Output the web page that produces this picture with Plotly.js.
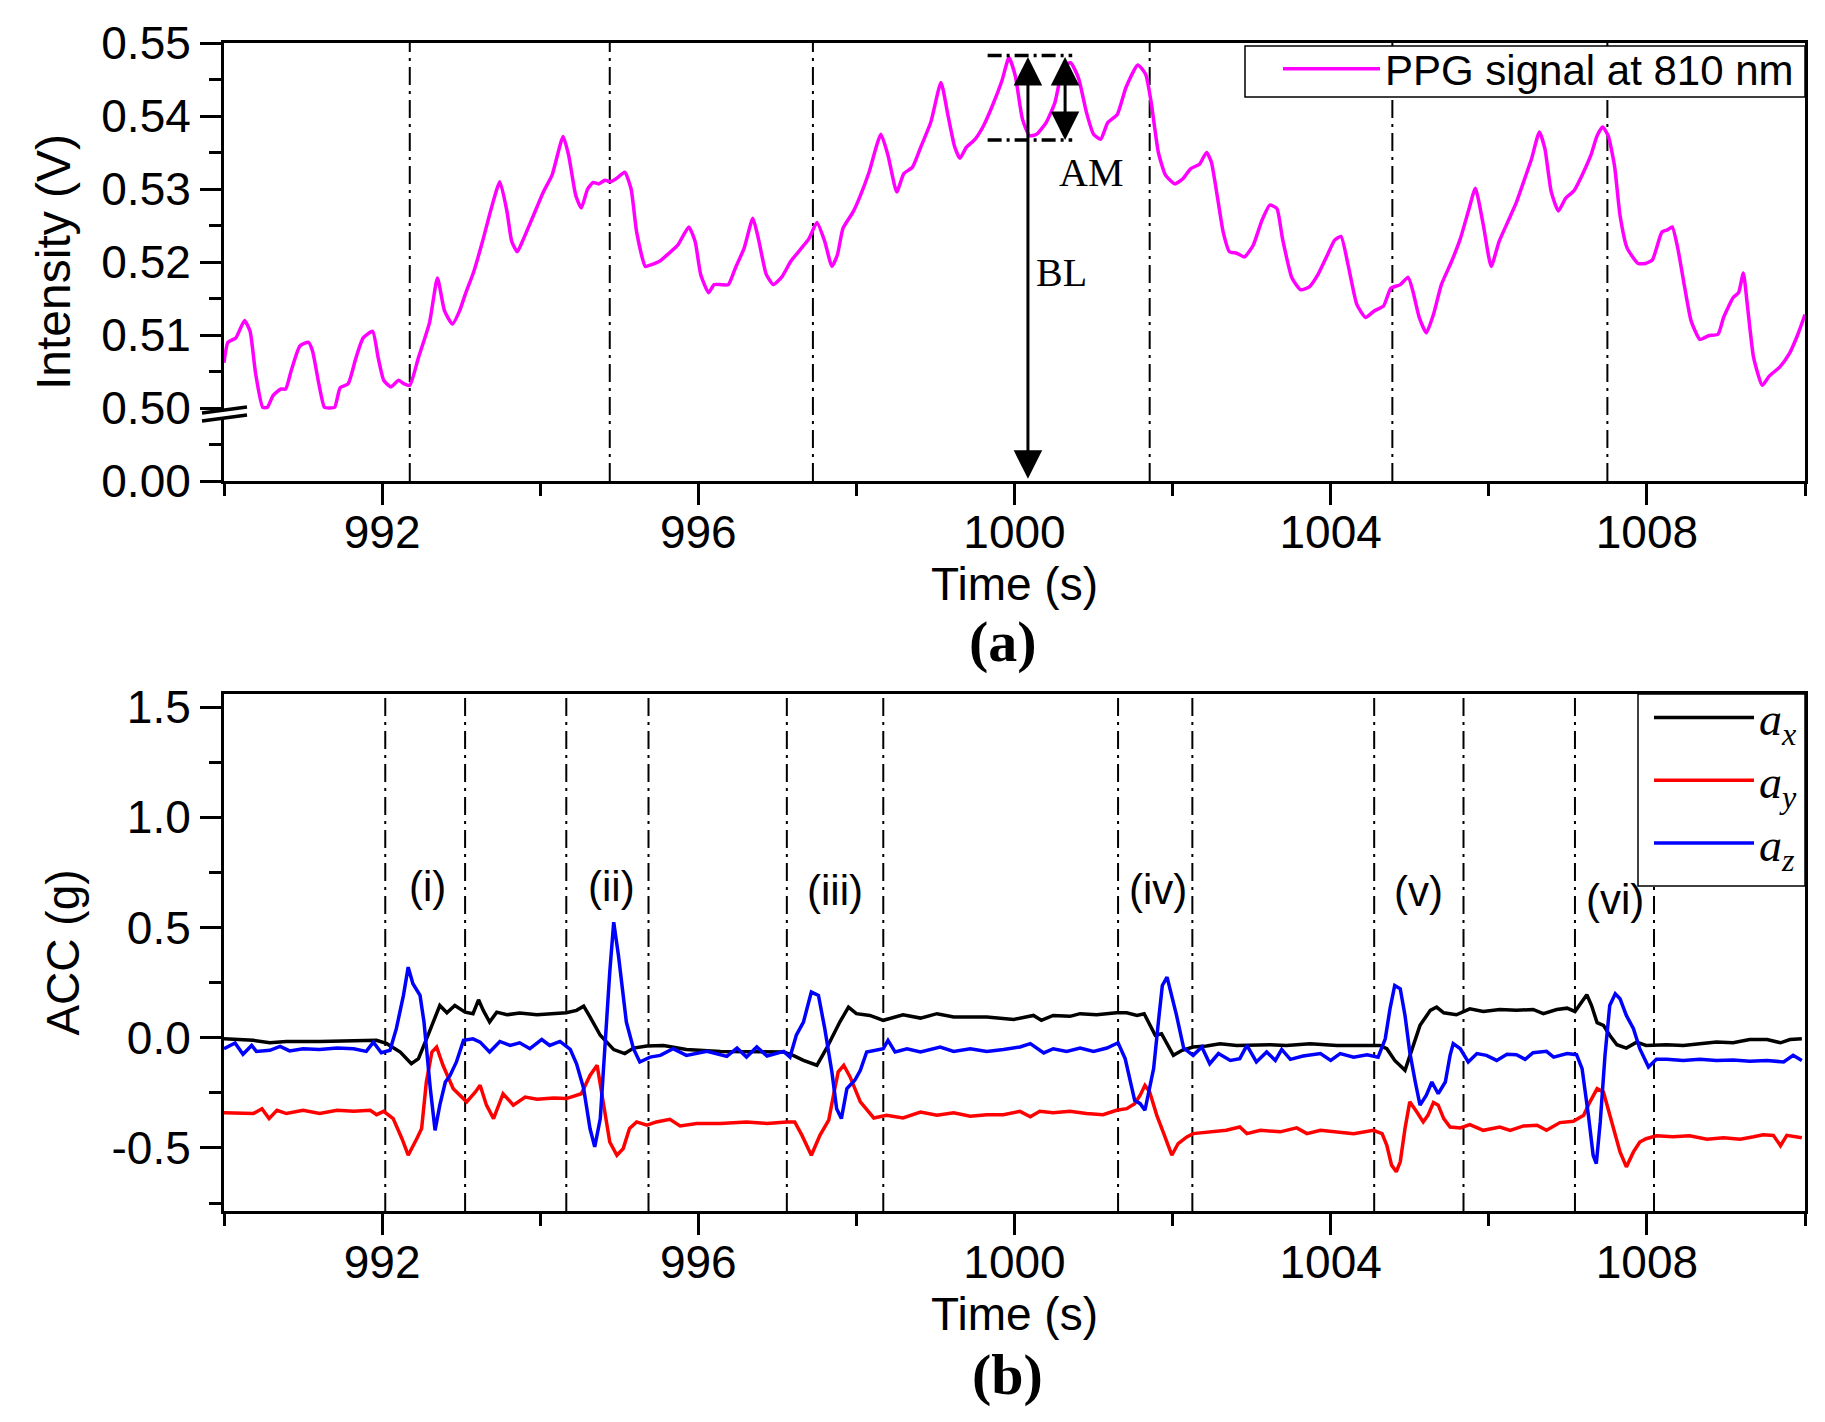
<!DOCTYPE html>
<html>
<head>
<meta charset="utf-8">
<script src="https://cdn.plot.ly/plotly-3.0.1.min.js"></script>
<style>
  html, body { margin: 0; padding: 0; background: #ffffff; }
  #chart { width: 1825px; height: 1422px; }
</style>
</head>
<body>
<div id="chart"></div>
<script>
// ---------------- DATA ----------------
// (a) PPG signal at 810 nm (time in s, intensity in V; values clipped at the 0.50 axis break)
const ppgTime = [990.0,990.05,990.15,990.26,990.33,990.40,990.49,990.55,990.62,990.72,990.78,990.85,990.96,991.07,991.12,991.20,991.27,991.33,991.40,991.47,991.57,991.67,991.76,991.88,991.95,992.02,992.11,992.21,992.28,992.35,992.46,992.60,992.70,992.79,992.89,992.98,993.05,993.16,993.27,993.38,993.49,993.58,993.64,993.71,993.79,993.90,994.04,994.15,994.29,994.36,994.45,994.52,994.60,994.67,994.74,994.82,994.89,994.96,995.07,995.15,995.22,995.33,995.40,995.51,995.63,995.74,995.88,995.96,996.03,996.13,996.20,996.29,996.38,996.47,996.58,996.69,996.76,996.86,996.95,997.06,997.17,997.29,997.40,997.50,997.60,997.69,997.76,997.83,997.96,998.05,998.16,998.31,998.40,998.51,998.60,998.71,998.82,998.94,999.07,999.16,999.24,999.31,999.39,999.50,999.61,999.72,999.84,999.93,1000.01,1000.10,1000.19,1000.28,1000.40,1000.51,1000.62,1000.71,1000.81,1000.91,1001.00,1001.09,1001.18,1001.30,1001.41,1001.56,1001.66,1001.73,1001.82,1001.91,1002.03,1002.13,1002.23,1002.34,1002.43,1002.49,1002.57,1002.64,1002.72,1002.81,1002.91,1003.02,1003.13,1003.23,1003.32,1003.39,1003.51,1003.62,1003.73,1003.84,1003.96,1004.05,1004.13,1004.22,1004.33,1004.44,1004.55,1004.67,1004.76,1004.88,1004.98,1005.04,1005.12,1005.21,1005.30,1005.40,1005.53,1005.64,1005.75,1005.83,1005.93,1006.03,1006.13,1006.24,1006.35,1006.46,1006.54,1006.64,1006.71,1006.79,1006.88,1006.97,1007.08,1007.18,1007.29,1007.37,1007.44,1007.51,1007.59,1007.66,1007.75,1007.89,1007.98,1008.07,1008.19,1008.26,1008.32,1008.39,1008.48,1008.56,1008.67,1008.78,1008.90,1008.97,1009.09,1009.16,1009.22,1009.27,1009.35,1009.46,1009.55,1009.68,1009.80,1009.91,1010.0];
const ppgValue = [0.5062,0.5090,0.5096,0.5120,0.5105,0.5047,0.5001,0.5001,0.5017,0.5026,0.5026,0.5051,0.5085,0.5090,0.5078,0.5033,0.5001,0.5000,0.5001,0.5028,0.5033,0.5069,0.5096,0.5105,0.5069,0.5038,0.5029,0.5038,0.5033,0.5031,0.5069,0.5117,0.5178,0.5133,0.5115,0.5133,0.5155,0.5187,0.5228,0.5273,0.5310,0.5269,0.5228,0.5214,0.5232,0.5260,0.5296,0.5319,0.5372,0.5346,0.5291,0.5274,0.5300,0.5309,0.5307,0.5312,0.5310,0.5314,0.5323,0.5300,0.5241,0.5194,0.5196,0.5201,0.5212,0.5223,0.5248,0.5228,0.5183,0.5158,0.5169,0.5169,0.5169,0.5192,0.5219,0.5260,0.5232,0.5183,0.5169,0.5180,0.5201,0.5217,0.5232,0.5254,0.5228,0.5194,0.5210,0.5246,0.5269,0.5291,0.5323,0.5375,0.5346,0.5296,0.5321,0.5330,0.5359,0.5391,0.5446,0.5400,0.5359,0.5342,0.5357,0.5368,0.5387,0.5414,0.5448,0.5480,0.5455,0.5396,0.5373,0.5375,0.5391,0.5418,0.5468,0.5473,0.5452,0.5405,0.5375,0.5368,0.5391,0.5402,0.5439,0.5470,0.5457,0.5418,0.5350,0.5319,0.5307,0.5314,0.5328,0.5334,0.5350,0.5337,0.5287,0.5241,0.5214,0.5212,0.5207,0.5223,0.5257,0.5278,0.5273,0.5232,0.5178,0.5162,0.5166,0.5183,0.5210,0.5230,0.5235,0.5196,0.5142,0.5124,0.5133,0.5140,0.5164,0.5169,0.5179,0.5160,0.5124,0.5103,0.5128,0.5169,0.5201,0.5232,0.5273,0.5301,0.5251,0.5194,0.5228,0.5255,0.5282,0.5316,0.5341,0.5378,0.5355,0.5296,0.5270,0.5287,0.5298,0.5319,0.5346,0.5373,0.5385,0.5373,0.5332,0.5264,0.5219,0.5198,0.5198,0.5203,0.5241,0.5244,0.5248,0.5219,0.5164,0.5119,0.5094,0.5099,0.5101,0.5124,0.5151,0.5158,0.5185,0.5142,0.5069,0.5031,0.5044,0.5056,0.5074,0.5101,0.5128];

// (b) accelerometer axes (time in s, acceleration in g)
const axTime = [990.0,990.37,990.58,990.79,991.21,991.64,991.93,992.06,992.23,992.37,992.46,992.58,992.73,992.82,992.92,993.05,993.15,993.22,993.28,993.36,993.45,993.58,993.74,993.96,994.17,994.33,994.46,994.55,994.63,994.76,994.93,995.07,995.18,995.35,995.56,995.85,996.28,996.70,997.08,997.20,997.33,997.50,997.62,997.79,997.90,998.00,998.17,998.34,998.59,998.81,999.02,999.23,999.65,999.99,1000.24,1000.34,1000.49,1000.70,1000.83,1001.04,1001.29,1001.42,1001.55,1001.64,1001.71,1001.78,1001.86,1001.93,1002.01,1002.12,1002.26,1002.43,1002.60,1002.81,1003.02,1003.23,1003.44,1003.74,1004.08,1004.29,1004.46,1004.62,1004.71,1004.81,1004.94,1005.03,1005.13,1005.26,1005.34,1005.43,1005.59,1005.76,1005.93,1006.14,1006.35,1006.56,1006.69,1006.86,1006.99,1007.09,1007.18,1007.24,1007.30,1007.37,1007.45,1007.53,1007.62,1007.74,1007.87,1007.99,1008.25,1008.46,1008.67,1008.88,1009.09,1009.30,1009.52,1009.69,1009.81,1009.96];
const axValue = [-0.005,-0.012,-0.023,-0.017,-0.017,-0.012,-0.012,-0.027,-0.065,-0.118,-0.095,0.011,0.146,0.113,0.146,0.116,0.109,0.172,0.124,0.071,0.116,0.104,0.112,0.104,0.109,0.113,0.124,0.143,0.094,0.011,-0.054,-0.072,-0.047,-0.038,-0.035,-0.053,-0.062,-0.065,-0.065,-0.080,-0.103,-0.125,-0.050,0.071,0.139,0.109,0.101,0.079,0.104,0.089,0.109,0.094,0.094,0.083,0.101,0.079,0.101,0.097,0.109,0.104,0.113,0.113,0.101,0.109,0.063,0.011,0.018,-0.027,-0.080,-0.057,-0.042,-0.038,-0.027,-0.035,-0.032,-0.032,-0.035,-0.027,-0.035,-0.035,-0.035,-0.035,-0.050,-0.103,-0.148,-0.050,0.056,0.124,0.139,0.113,0.104,0.131,0.119,0.128,0.124,0.128,0.109,0.128,0.134,0.119,0.162,0.195,0.146,0.068,0.056,0.011,-0.032,-0.047,-0.020,-0.035,-0.032,-0.035,-0.027,-0.020,-0.023,-0.008,-0.008,-0.023,-0.008,-0.005];

const ayTime = [990.0,990.37,990.48,990.57,990.67,990.79,991.0,991.21,991.43,991.64,991.85,991.93,992.02,992.14,992.25,992.33,992.44,992.50,992.56,992.63,992.69,992.77,992.90,993.07,993.18,993.24,993.32,993.41,993.53,993.66,993.81,993.96,994.17,994.33,994.52,994.63,994.72,994.80,994.88,994.97,995.05,995.13,995.22,995.35,995.47,995.64,995.77,995.98,996.28,996.61,996.87,997.12,997.22,997.31,997.43,997.54,997.65,997.71,997.77,997.84,997.92,998.05,998.22,998.38,998.59,998.81,999.02,999.23,999.44,999.65,999.86,1000.07,1000.20,1000.32,1000.49,1000.70,1000.91,1001.12,1001.29,1001.42,1001.52,1001.59,1001.65,1001.71,1001.80,1001.88,1001.99,1002.07,1002.18,1002.26,1002.47,1002.68,1002.85,1002.94,1003.11,1003.36,1003.57,1003.70,1003.87,1004.12,1004.29,1004.54,1004.65,1004.71,1004.77,1004.83,1004.88,1004.94,1005.0,1005.09,1005.17,1005.23,1005.30,1005.36,1005.43,1005.51,1005.64,1005.76,1005.93,1006.14,1006.27,1006.44,1006.61,1006.73,1006.90,1007.07,1007.20,1007.28,1007.37,1007.45,1007.53,1007.66,1007.74,1007.83,1007.91,1007.99,1008.12,1008.33,1008.54,1008.76,1008.97,1009.18,1009.35,1009.47,1009.60,1009.69,1009.77,1009.96];
const ayValue = [-0.340,-0.344,-0.322,-0.367,-0.329,-0.344,-0.329,-0.344,-0.329,-0.334,-0.329,-0.349,-0.334,-0.367,-0.457,-0.533,-0.457,-0.412,-0.200,-0.065,-0.042,-0.125,-0.231,-0.291,-0.246,-0.216,-0.306,-0.367,-0.254,-0.306,-0.269,-0.279,-0.273,-0.276,-0.254,-0.171,-0.125,-0.291,-0.473,-0.533,-0.503,-0.412,-0.382,-0.397,-0.382,-0.370,-0.400,-0.389,-0.389,-0.382,-0.389,-0.382,-0.382,-0.442,-0.533,-0.442,-0.374,-0.261,-0.155,-0.125,-0.178,-0.291,-0.364,-0.352,-0.364,-0.337,-0.352,-0.340,-0.356,-0.349,-0.349,-0.334,-0.359,-0.334,-0.340,-0.334,-0.344,-0.349,-0.329,-0.322,-0.299,-0.261,-0.216,-0.246,-0.352,-0.427,-0.533,-0.480,-0.450,-0.435,-0.427,-0.420,-0.405,-0.435,-0.420,-0.427,-0.409,-0.435,-0.420,-0.427,-0.435,-0.420,-0.435,-0.488,-0.578,-0.608,-0.563,-0.412,-0.291,-0.337,-0.382,-0.352,-0.294,-0.306,-0.367,-0.405,-0.409,-0.394,-0.420,-0.405,-0.420,-0.400,-0.397,-0.420,-0.385,-0.379,-0.352,-0.291,-0.231,-0.246,-0.352,-0.518,-0.586,-0.518,-0.473,-0.458,-0.445,-0.449,-0.445,-0.460,-0.454,-0.460,-0.449,-0.440,-0.443,-0.490,-0.443,-0.454];

const azTime = [990.0,990.14,990.24,990.35,990.41,990.58,990.71,990.83,991.0,991.21,991.43,991.64,991.80,991.89,991.99,992.10,992.18,992.27,992.33,992.39,992.48,992.53,992.61,992.67,992.73,992.80,992.86,992.94,993.03,993.15,993.24,993.36,993.49,993.62,993.74,993.87,994.02,994.12,994.25,994.38,994.46,994.55,994.63,994.69,994.76,994.82,994.88,994.93,994.99,995.09,995.18,995.26,995.39,995.52,995.68,995.85,996.11,996.36,996.49,996.61,996.74,996.87,997.08,997.16,997.24,997.33,997.43,997.52,997.60,997.69,997.75,997.81,997.88,997.98,998.05,998.13,998.26,998.34,998.40,998.49,998.64,998.81,999.06,999.23,999.44,999.65,999.86,1000.07,1000.20,1000.37,1000.49,1000.66,1000.83,1001.0,1001.17,1001.31,1001.40,1001.46,1001.52,1001.59,1001.65,1001.69,1001.76,1001.82,1001.87,1001.93,1001.99,1002.05,1002.14,1002.26,1002.37,1002.47,1002.58,1002.73,1002.85,1002.94,1003.06,1003.19,1003.30,1003.38,1003.49,1003.65,1003.87,1004.00,1004.12,1004.29,1004.46,1004.60,1004.69,1004.75,1004.81,1004.88,1004.94,1005.0,1005.07,1005.13,1005.21,1005.28,1005.36,1005.45,1005.51,1005.55,1005.64,1005.74,1005.85,1005.97,1006.10,1006.23,1006.35,1006.46,1006.56,1006.73,1006.82,1006.99,1007.11,1007.18,1007.26,1007.32,1007.36,1007.41,1007.47,1007.53,1007.60,1007.66,1007.74,1007.83,1007.91,1008.02,1008.12,1008.25,1008.46,1008.67,1008.88,1009.09,1009.30,1009.52,1009.73,1009.85,1009.96];
const azValue = [-0.050,-0.024,-0.075,-0.035,-0.062,-0.057,-0.039,-0.060,-0.050,-0.053,-0.047,-0.050,-0.062,-0.020,-0.068,-0.057,0.041,0.192,0.320,0.245,0.192,0.071,-0.231,-0.420,-0.306,-0.201,-0.171,-0.110,-0.012,-0.005,-0.020,-0.065,-0.017,-0.035,-0.023,-0.050,-0.008,-0.035,-0.017,-0.053,-0.118,-0.231,-0.412,-0.495,-0.367,-0.005,0.297,0.524,0.373,0.071,-0.050,-0.110,-0.088,-0.080,-0.050,-0.080,-0.062,-0.085,-0.047,-0.088,-0.042,-0.083,-0.062,-0.088,0.011,0.071,0.207,0.192,0.041,-0.155,-0.322,-0.367,-0.231,-0.193,-0.148,-0.065,-0.057,-0.050,-0.012,-0.065,-0.050,-0.065,-0.042,-0.062,-0.050,-0.062,-0.053,-0.042,-0.027,-0.069,-0.050,-0.062,-0.047,-0.062,-0.047,-0.023,-0.095,-0.186,-0.284,-0.299,-0.329,-0.261,-0.140,0.071,0.237,0.275,0.192,0.101,-0.047,-0.080,-0.042,-0.118,-0.072,-0.103,-0.095,-0.035,-0.110,-0.065,-0.103,-0.053,-0.098,-0.083,-0.072,-0.103,-0.072,-0.088,-0.077,-0.088,-0.005,0.131,0.237,0.222,0.101,-0.065,-0.201,-0.306,-0.261,-0.201,-0.254,-0.201,-0.080,-0.027,-0.050,-0.110,-0.072,-0.080,-0.103,-0.075,-0.077,-0.098,-0.068,-0.062,-0.088,-0.072,-0.077,-0.140,-0.352,-0.533,-0.571,-0.382,-0.080,0.146,0.199,0.177,0.101,0.041,-0.050,-0.133,-0.098,-0.098,-0.103,-0.098,-0.103,-0.101,-0.107,-0.103,-0.110,-0.080,-0.103];

// event markers (dash-dot lines) and movement labels
const ppgMarkers = [992.35, 994.88, 997.45, 1001.71, 1004.78, 1007.50];
const accMarkers = [992.04, 993.05, 994.33, 995.37, 997.12, 998.34, 1001.31, 1002.25, 1004.55, 1005.68, 1007.09, 1008.09];
const regionLabels = ['(i)', '(ii)', '(iii)', '(iv)', '(v)', '(vi)'];
const regionX = [992.57, 994.90, 997.73, 1001.81, 1005.11, 1007.60];
const regionY = [0.688, 0.688, 0.670, 0.672, 0.661, 0.625];

// AM / BL markings
const peakLevel = 0.5483;
const troughLevel = 0.5367;
const blTime = 1000.17;
const amTime = 1000.64;

// axis tick labels
const ppgTickVals = [0.49, 0.50, 0.51, 0.52, 0.53, 0.54, 0.55];
const ppgTickText = ['0.00', '0.50', '0.51', '0.52', '0.53', '0.54', '0.55'];
const accTickVals = [-0.5, 0.0, 0.5, 1.0, 1.5];
const accTickText = ['-0.5', '0.0', '0.5', '1.0', '1.5'];
const timeTickVals = [992, 996, 1000, 1004, 1008];
const timeTickText = ['992', '996', '1000', '1004', '1008'];

// ---------------- LAYOUT HELPERS ----------------
const W = 1825, H = 1422;
const px = v => v / W;
const py = v => 1 - v / H;
const SANS = 'Liberation Sans, Arial, sans-serif';
const SERIF = 'Liberation Serif, Times New Roman, serif';

const traces = [
  { x: ppgTime, y: ppgValue, xaxis: 'x', yaxis: 'y', type: 'scatter', mode: 'lines',
    name: 'PPG signal at 810 nm', line: { color: '#ff00ff', width: 3.5, shape: 'spline', smoothing: 0.5 },
    legend: 'legend', showlegend: true },
  { x: axTime, y: axValue, xaxis: 'x2', yaxis: 'y2', type: 'scatter', mode: 'lines',
    name: '<i>a</i><sub><i>x</i></sub>', line: { color: '#000000', width: 3.5 }, legend: 'legend2' },
  { x: ayTime, y: ayValue, xaxis: 'x2', yaxis: 'y2', type: 'scatter', mode: 'lines',
    name: '<i>a</i><sub><i>y</i></sub>', line: { color: '#ff0000', width: 3.5 }, legend: 'legend2' },
  { x: azTime, y: azValue, xaxis: 'x2', yaxis: 'y2', type: 'scatter', mode: 'lines',
    name: '<i>a</i><sub><i>z</i></sub>', line: { color: '#0000ff', width: 3.5 }, legend: 'legend2' }
];

const xCommon = {
  range: [990, 1010], tickmode: 'array', tickvals: timeTickVals, ticktext: timeTickText,
  ticks: 'outside', ticklen: 21, tickwidth: 3, tickcolor: '#000',
  minor: { ticks: 'outside', ticklen: 12, tickwidth: 3, tickcolor: '#000', tickmode: 'linear', tick0: 990, dtick: 2 },
  showline: true, linecolor: '#000', linewidth: 3, mirror: true,
  showgrid: false, zeroline: false,
  tickfont: { family: SANS, size: 46, color: '#000' },
  ticklabelstandoff: -12,
  title: { text: 'Time (s)', font: { family: SANS, size: 46, color: '#000' }, standoff: 2 },
  domain: [px(224), px(1805)], fixedrange: true
};

const layout = {
  width: W, height: H, autosize: false,
  margin: { l: 0, r: 0, t: 0, b: 0 },
  paper_bgcolor: '#ffffff', plot_bgcolor: '#ffffff',
  xaxis: Object.assign({}, xCommon, { anchor: 'y' }),
  xaxis2: Object.assign({}, xCommon, { anchor: 'y2' }),
  yaxis: {
    domain: [py(481), py(43)], range: [0.49, 0.55], anchor: 'x',
    tickmode: 'array', tickvals: ppgTickVals, ticktext: ppgTickText,
    ticks: 'outside', ticklen: 21, tickwidth: 3, tickcolor: '#000',
    minor: { ticks: 'outside', ticklen: 12, tickwidth: 3, tickcolor: '#000', tickmode: 'linear', tick0: 0.49, dtick: 0.005 },
    showline: true, linecolor: '#000', linewidth: 3, mirror: true,
    showgrid: false, zeroline: false,
    tickfont: { family: SANS, size: 46, color: '#000' },
    title: { text: 'Intensity (V)', font: { family: SANS, size: 48, color: '#000' }, standoff: 16 },
    fixedrange: true
  },
  yaxis2: {
    domain: [py(1211), py(694)], range: [-0.786, 1.559], anchor: 'x2',
    tickmode: 'array', tickvals: accTickVals, ticktext: accTickText,
    ticks: 'outside', ticklen: 21, tickwidth: 3, tickcolor: '#000',
    minor: { ticks: 'outside', ticklen: 12, tickwidth: 3, tickcolor: '#000', tickmode: 'linear', tick0: 0, dtick: 0.25 },
    showline: true, linecolor: '#000', linewidth: 3, mirror: true,
    showgrid: false, zeroline: false,
    tickfont: { family: SANS, size: 46, color: '#000' },
    title: { text: 'ACC (g)', font: { family: SANS, size: 46, color: '#000' }, standoff: 18 },
    fixedrange: true
  },
  legend: {
    x: px(1278), xanchor: 'left', y: py(35), yanchor: 'top',
    bgcolor: 'rgba(0,0,0,0)', borderwidth: 0,
    font: { family: SANS, size: 42, color: '#000' }, itemwidth: 97
  },
  legend2: {
    x: px(1649), xanchor: 'left', y: py(681), yanchor: 'top',
    bgcolor: 'rgba(0,0,0,0)', borderwidth: 0,
    font: { family: SERIF, size: 46, color: '#000' }, itemwidth: 100
  },
  shapes: [],
  annotations: []
};

const dashDot = '18px,6px,3px,6px';
ppgMarkers.forEach(t => layout.shapes.push({
  type: 'line', xref: 'x', yref: 'y domain', x0: t, x1: t, y0: 0, y1: 1,
  line: { color: '#000', width: 2, dash: dashDot }, layer: 'below'
}));
accMarkers.forEach(t => layout.shapes.push({
  type: 'line', xref: 'x2', yref: 'y2 domain', x0: t, x1: t, y0: 0, y1: 1,
  line: { color: '#000', width: 2, dash: dashDot }, layer: 'below'
}));

// legend frames (opaque, covering the marker lines as in the original)
layout.shapes.push({
  type: 'rect', xref: 'paper', yref: 'paper', x0: px(1245), x1: px(1805), y0: py(97), y1: py(46),
  fillcolor: '#ffffff', line: { color: '#000', width: 1.5 }, layer: 'above'
});
layout.shapes.push({
  type: 'rect', xref: 'paper', yref: 'paper', x0: px(1638), x1: px(1805), y0: py(886), y1: py(694),
  fillcolor: '#ffffff', line: { color: '#000', width: 1.5 }, layer: 'above'
});

// AM reference lines (peak and trough levels)
[peakLevel, troughLevel].forEach(lv => layout.shapes.push({
  type: 'line', xref: 'x', yref: 'y', x0: 999.66, x1: 1000.73, y0: lv, y1: lv,
  line: { color: '#000', width: 3.5, dash: '14px,5px,3px,5px' }
}));

// axis break "//" at 0.50
layout.shapes.push({
  type: 'rect', xref: 'paper', yref: 'paper', x0: px(218), x1: px(230), y0: py(419), y1: py(411),
  fillcolor: '#ffffff', line: { width: 0 }, layer: 'above'
});
layout.shapes.push({
  type: 'line', xref: 'paper', yref: 'paper', x0: px(202), y0: py(413), x1: px(247), y1: py(407),
  line: { color: '#000', width: 3.5 }, layer: 'above'
});
layout.shapes.push({
  type: 'line', xref: 'paper', yref: 'paper', x0: px(202), y0: py(421), x1: px(247), y1: py(415),
  line: { color: '#000', width: 3.5 }, layer: 'above'
});

// arrows BL and AM
layout.annotations.push({
  xref: 'x', yref: 'y', axref: 'x', ayref: 'y',
  x: blTime, y: 0.4903, ax: blTime, ay: peakLevel, text: '',
  showarrow: true, arrowside: 'end+start', arrowhead: 2, startarrowhead: 2,
  arrowsize: 1.9, startarrowsize: 1.9, arrowwidth: 3, arrowcolor: '#000', standoff: 0, startstandoff: 0
});
layout.annotations.push({
  xref: 'x', yref: 'y', axref: 'x', ayref: 'y',
  x: amTime, y: troughLevel, ax: amTime, ay: peakLevel, text: '',
  showarrow: true, arrowside: 'end+start', arrowhead: 2, startarrowhead: 2,
  arrowsize: 1.9, startarrowsize: 1.9, arrowwidth: 3, arrowcolor: '#000', standoff: 0, startstandoff: 0
});
layout.annotations.push({
  xref: 'x', yref: 'y', x: 1000.97, y: 0.5322, text: 'AM', showarrow: false,
  xanchor: 'center', yanchor: 'middle',
  font: { family: SERIF, size: 40, color: '#000' }
});
layout.annotations.push({
  xref: 'x', yref: 'y', x: 1000.59, y: 0.5185, text: 'BL', showarrow: false,
  xanchor: 'center', yanchor: 'middle',
  font: { family: SERIF, size: 40, color: '#000' }
});

// movement labels
regionLabels.forEach((lab, i) => layout.annotations.push({
  xref: 'x2', yref: 'y2', x: regionX[i], y: regionY[i], text: lab, showarrow: false,
  xanchor: 'center', yanchor: 'middle',
  font: { family: SANS, size: 42, color: '#000' }
}));

// panel labels
layout.annotations.push({
  xref: 'paper', yref: 'paper', x: px(1003), y: py(641), text: '<b>(a)</b>', showarrow: false,
  xanchor: 'center', yanchor: 'middle',
  font: { family: SERIF, size: 58, color: '#000' }
});
layout.annotations.push({
  xref: 'paper', yref: 'paper', x: px(1007), y: py(1374), text: '<b>(b)</b>', showarrow: false,
  xanchor: 'center', yanchor: 'middle',
  font: { family: SERIF, size: 58, color: '#000' }
});

Plotly.newPlot('chart', traces, layout, { staticPlot: true, displayModeBar: false });
</script>
</body>
</html>
